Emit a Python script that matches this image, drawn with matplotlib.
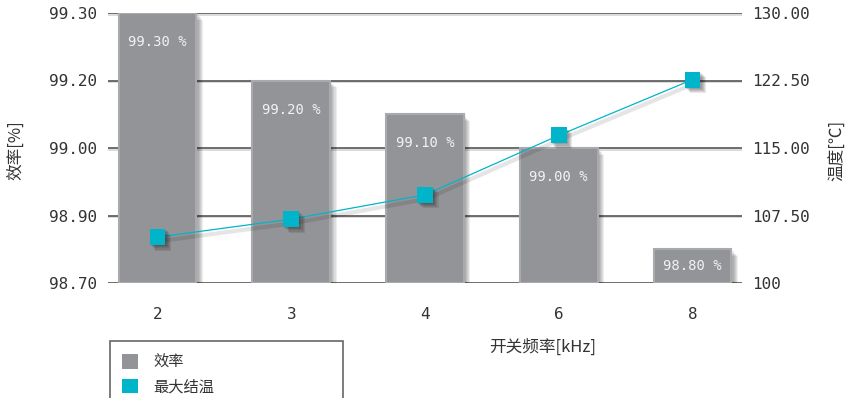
import numpy as np
import matplotlib
matplotlib.use('Agg')
import matplotlib.pyplot as plt
import matplotlib.patheffects as pe
from matplotlib.patches import Patch, Rectangle

plt.rcParams['font.family'] = ['Noto Sans CJK SC', 'DejaVu Sans']

freq_labels = ['2', '3', '4', '6', '8']
efficiency = [99.30, 99.20, 99.10, 99.00, 98.80]
junction_temp = [105.1, 107.1, 109.8, 116.4, 122.6]

eff_ticks = [98.70, 98.90, 99.00, 99.20, 99.30]
eff_tick_labels = ['98.70', '98.90', '99.00', '99.20', '99.30']
temp_ticks = [100, 107.5, 115, 122.5, 130]
temp_tick_labels = ['100', '107.50', '115.00', '122.50', '130.00']

BAR = '#939497'
CYAN = '#00b5c9'
TEXT = '#333333'
NUM_FONT = 'DejaVu Sans Mono'
DPI = 100


def soft_shadow(steps=6, alpha=0.07):
    """Stack of offset shadows that fakes a blurred drop shadow"""
    effects = [pe.SimplePatchShadow(offset=(k * 0.8, -k * 0.8),
                                    shadow_rgbFace='k', alpha=alpha)
               for k in range(1, steps + 1)]
    return effects + [pe.Normal()]


fig = plt.figure(figsize=(8.53, 3.98), dpi=DPI)
ax = fig.add_axes([108 / 853, 115 / 398, 634 / 853, 270 / 398])

# efficiency ticks are evenly spaced on the axis, so map them piecewise
idx = np.arange(len(eff_ticks))
ax.set_yscale('function', functions=(lambda v: np.interp(v, eff_ticks, idx),
                                     lambda p: np.interp(p, idx, eff_ticks)))
ax.set_ylim(eff_ticks[0], eff_ticks[-1])
ax.set_xlim(-0.37, 4.37)

x = np.arange(len(freq_labels))
bars = ax.bar(x, np.array(efficiency) - eff_ticks[0], bottom=eff_ticks[0],
              width=0.58, color=BAR, edgecolor='#a9aaad', linewidth=1.5,
              zorder=2)
for b in bars:
    b.set_path_effects(soft_shadow())

for xi, v in zip(x, efficiency):
    # keep the value label inside short bars
    top = ax.transData.transform((xi, v))[1]
    base = ax.transData.transform((xi, eff_ticks[0]))[1]
    h_pt = (top - base) * 72 / DPI
    off = min(21, h_pt / 2)
    ax.annotate(f'{v:.2f} %', xy=(xi, v), xytext=(0, -off),
                textcoords='offset points', ha='center', va='center',
                color='#f2f2f2', fontsize=10, family=NUM_FONT, zorder=3)

ax.set_xticks(x, freq_labels, family=NUM_FONT, fontsize=11.5, color=TEXT)
ax.set_yticks(eff_ticks, eff_tick_labels, family=NUM_FONT, fontsize=11.5,
              color=TEXT)
ax.tick_params(axis='x', length=0, pad=17)
ax.tick_params(axis='y', length=0, pad=8)
ax.set_axisbelow(True)
ax.yaxis.grid(True, color='#555555', linewidth=1.2)
for gl in ax.get_ygridlines():
    gl.set_path_effects([pe.SimpleLineShadow(offset=(0, -1.2),
                                             shadow_color='#bbbbbb', alpha=0.6),
                         pe.Normal()])
for s in ax.spines.values():
    s.set_visible(False)

ax2 = ax.twinx()
ax2.set_ylim(temp_ticks[0], temp_ticks[-1])
ax2.set_yticks(temp_ticks, temp_tick_labels, family=NUM_FONT, fontsize=11.5,
               color=TEXT)
ax2.tick_params(axis='y', length=0, pad=7)
for s in ax2.spines.values():
    s.set_visible(False)

ax2.plot(x, junction_temp, color=CYAN, linewidth=0.9, zorder=3,
         path_effects=[pe.SimpleLineShadow(offset=(1, -3), shadow_color='k',
                                           alpha=0.1, linewidth=3),
                       pe.Normal()])
ax2.plot(x, junction_temp, ls='none', marker='s', markersize=11.5,
         color=CYAN, markeredgecolor='none', zorder=4,
         path_effects=soft_shadow(5, 0.09))

fig.text(543 / 853, 1 - 347 / 398, '开关频率[kHz]', ha='center', va='center',
         fontsize=12, color=TEXT)
fig.text(16 / 853, 1 - 150 / 398, '效率[%]', rotation=90, ha='center',
         va='center', fontsize=12, color=TEXT)
fig.text(838 / 853, 1 - 150 / 398, '温度[℃]', rotation=90, ha='center',
         va='center', fontsize=12, color=TEXT)

# legend box runs off the bottom edge
fig.patches.append(Rectangle((110 / 853, -0.1), 233 / 853, 0.1 + 57 / 398,
                             transform=fig.transFigure, fill=False,
                             edgecolor='#666666', linewidth=1.2))
fig.legend(handles=[Patch(facecolor=BAR), Patch(facecolor=CYAN)],
           labels=['效率', '最大结温'], loc='upper left',
           bbox_to_anchor=(114 / 853, 1 - 346 / 398), frameon=False,
           fontsize=11, handlelength=1.05, handleheight=1.05,
           handletextpad=1.05, labelspacing=0.5, borderpad=0,
           labelcolor=TEXT)

fig.savefig('out.png', dpi=DPI)
plt.close(fig)
